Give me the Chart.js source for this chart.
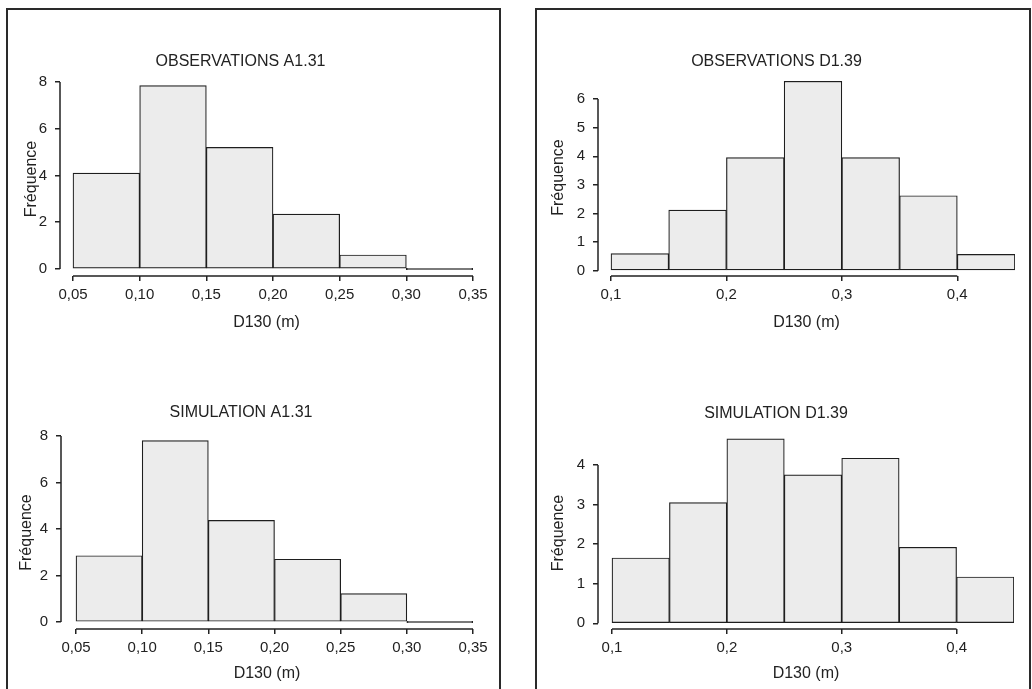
<!DOCTYPE html>
<html>
<head>
<meta charset="utf-8">
<script src="https://cdn.jsdelivr.net/npm/chart.js@4.4.0/dist/chart.umd.min.js"></script>
<style>
  body { margin: 0; background: #fff; width: 1032px; height: 689px; overflow: hidden; position: relative; }
  .panel { position: absolute; top: 8px; height: 700px; border: 2px solid #2a2a2a; border-bottom: none; }
  canvas { position: absolute; }
</style>
</head>
<body>
<div class="panel" style="left:6px; width:491px;"></div>
<div class="panel" style="left:535px; width:492px;"></div>
<canvas id="obsA"></canvas>
<canvas id="obsD"></canvas>
<canvas id="simA"></canvas>
<canvas id="simD"></canvas>
<script>
// bin starts (m), width 0.05
const binsA = [0.05, 0.10, 0.15, 0.20, 0.25, 0.30];
const binsD = [0.10, 0.15, 0.20, 0.25, 0.30, 0.35, 0.40];
const binWidth = 0.05;

// frequencies
const obsA131 = [4.1, 7.85, 5.2, 2.35, 0.6, 0];
const simA131 = [2.85, 7.8, 4.37, 2.7, 1.22, 0];
const obsD139 = [0.6, 2.12, 3.95, 6.62, 3.95, 2.62, 0.57];
const simD139 = [1.65, 3.05, 4.66, 3.75, 4.17, 1.92, 1.17];

// tick labels
const xTicksA = [0.05, 0.10, 0.15, 0.20, 0.25, 0.30, 0.35];
const xLabelsA = ["0,05", "0,10", "0,15", "0,20", "0,25", "0,30", "0,35"];
const xTicksD = [0.1, 0.2, 0.3, 0.4];
const xLabelsD = ["0,1", "0,2", "0,3", "0,4"];
const yTicks8 = [0, 2, 4, 6, 8];
const yTicks6 = [0, 1, 2, 3, 4, 5, 6];
const yTicks4 = [0, 1, 2, 3, 4];

Chart.defaults.font.family = "'Liberation Sans', Arial, sans-serif";
Chart.defaults.color = "#222";

// R-style detached axes: line only between first and last tick
const axisLines = {
  id: "axisLines",
  afterDraw(chart) {
    const { ctx, scales: { x, y } } = chart;
    ctx.save();
    ctx.strokeStyle = "#222";
    ctx.lineWidth = 1.5;
    ctx.beginPath();
    ctx.moveTo(x.getPixelForValue(x.ticks[0].value), x.top);
    ctx.lineTo(x.getPixelForValue(x.ticks[x.ticks.length - 1].value), x.top);
    ctx.moveTo(y.right, y.getPixelForValue(y.ticks[0].value));
    ctx.lineTo(y.right, y.getPixelForValue(y.ticks[y.ticks.length - 1].value));
    ctx.stroke();
    ctx.restore();
  },
};

const histogram = (id, title, bins, values, xTicks, xLabels, yTicks, box) => {
  const canvas = document.getElementById(id);
  canvas.width = box.w;
  canvas.height = box.h;
  canvas.style.left = box.left + "px";
  canvas.style.top = box.top + "px";

  return new Chart(canvas, {
    type: "bar",
    data: {
      datasets: [
        {
          data: bins.map((b, i) => ({ x: b + binWidth / 2, y: values[i] })),
          backgroundColor: "#ececec",
          borderColor: "#1e1e1e",
          borderWidth: 1.2,
          borderSkipped: false,
          minBarLength: 1.5,
          barPercentage: 1,
          categoryPercentage: 1,
        },
      ],
    },
    options: {
      responsive: false,
      animation: false,
      layout: { padding: { left: 0, right: box.padRight, top: 0, bottom: 0 } },
      plugins: {
        legend: { display: false },
        tooltip: { enabled: false },
        title: {
          display: true,
          text: title,
          color: "#222",
          font: { size: 16, weight: "normal" },
          padding: { top: box.titleTop, bottom: box.titleBottom },
        },
      },
      scales: {
        x: {
          type: "linear",
          offset: false,
          min: box.xMin,
          max: box.xMax,
          afterBuildTicks: (s) => { s.ticks = xTicks.map((v) => ({ value: v })); },
          afterFit: (s) => { s.height = box.xHeight; },
          ticks: {
            autoSkip: false,
            maxRotation: 0,
            padding: 5,
            font: { size: 15 },
            callback: (v, i) => xLabels[i],
          },
          grid: { offset: false, drawOnChartArea: false, tickLength: 5, color: "#222", lineWidth: 1.5 },
          border: { display: false },
          title: { display: true, text: "D130 (m)", font: { size: 16 }, padding: 0 },
        },
        y: {
          min: box.yMin,
          max: box.yMax,
          afterBuildTicks: (s) => { s.ticks = yTicks.map((v) => ({ value: v })); },
          afterFit: (s) => { s.width = box.yWidth; },
          ticks: { padding: 8, font: { size: 15 }, callback: (v) => String(v) },
          grid: { drawOnChartArea: false, tickLength: 5, color: "#222", lineWidth: 1.5 },
          border: { display: false },
          title: { display: true, text: "Fréquence", font: { size: 16 }, padding: { top: box.yTitlePad, bottom: 0 } },
        },
      },
    },
    plugins: [axisLines],
  });
};

histogram("obsA", "OBSERVATIONS A1.31", binsA, obsA131, xTicksA, xLabelsA, yTicks8, {
  left: 8, top: 10, w: 485, h: 322, padRight: 20, titleTop: 42.4, titleBottom: 10.4,
  xHeight: 56, yWidth: 52, yTitlePad: 14.4, xMin: 0.04025, xMax: 0.35, yMin: -0.3, yMax: 8,
});
histogram("obsD", "OBSERVATIONS D1.39", binsD, obsD139, xTicksD, xLabelsD, yTicks6, {
  left: 538, top: 10, w: 481, h: 322, padRight: 4, titleTop: 42.4, titleBottom: 7.4,
  xHeight: 56, yWidth: 60, yTitlePad: 11.1, xMin: 0.08874, xMax: 0.45, yMin: -0.185, yMax: 6.7,
});
histogram("simA", "SIMULATION A1.31", binsA, simA131, xTicksA, xLabelsA, yTicks8, {
  left: 9, top: 364, w: 484, h: 319, padRight: 20, titleTop: 39.4, titleBottom: 13.4,
  xHeight: 54, yWidth: 52, yTitlePad: 8.4, xMin: 0.03866, xMax: 0.35, yMin: -0.3, yMax: 8,
});
histogram("simD", "SIMULATION D1.39", binsD, simD139, xTicksD, xLabelsD, yTicks4, {
  left: 538, top: 364, w: 480, h: 319, padRight: 4, titleTop: 39.7, titleBottom: 14.1,
  xHeight: 54, yWidth: 60, yTitlePad: 11.1, xMin: 0.08781, xMax: 0.45, yMin: -0.144, yMax: 4.707,
});
</script>
</body>
</html>
